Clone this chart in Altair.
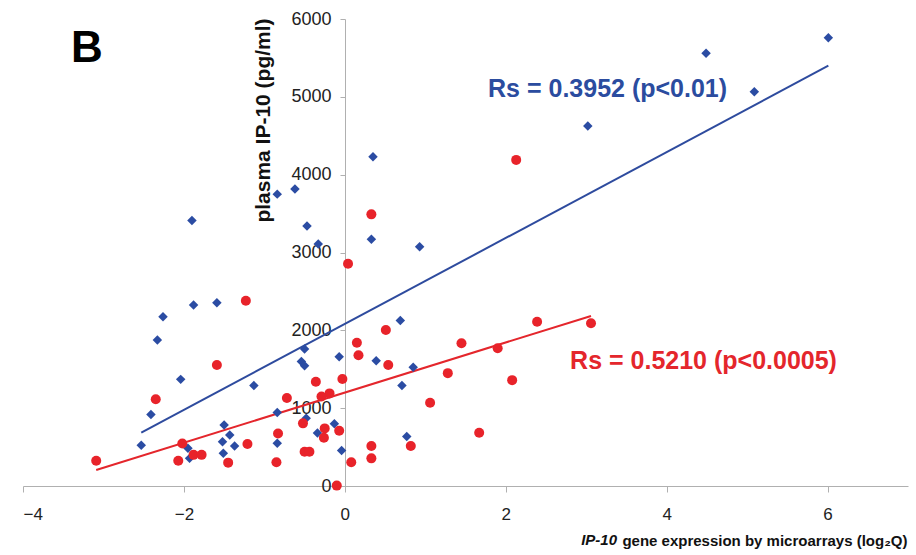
import altair as alt
import pandas as pd

# Blue series (diamonds)
blue_x = [-1.90, -0.84, -0.62, -0.47, -0.33, -2.26, -2.33, -1.88, -1.59, -2.04,
          -1.13, -0.50, -0.54, -0.50, -0.07, -2.41, -2.53, -0.84, -0.84, -1.95,
          -1.93, -1.50, -1.43, -1.52, -1.51, -1.37, -0.48, -0.34, -0.13, -0.04,
          0.35, 0.33, 0.93, 0.69, 0.39, 0.85, 0.71, 0.77, 3.02, 4.49, 5.09, 6.01]
blue_y = [3410, 3750, 3815, 3340, 3110, 2175, 1875, 2325, 2355, 1370,
          1290, 1760, 1600, 1545, 1660, 920, 525, 945, 550, 485,
          355, 785, 655, 570, 420, 515, 870, 680, 800, 455,
          4230, 3170, 3075, 2125, 1610, 1525, 1290, 635, 4625, 5560, 5065, 5760]

# Red series (circles)
red_x = [-3.09, -2.35, -1.23, -1.59, -2.02, -2.07, -1.88, -1.78, -1.45, -1.21,
         -0.85, -0.83, -0.72, -0.52, -0.50, -0.44, -0.36, -0.25, -0.26, -0.19,
         -0.29, -0.07, -0.03, 0.04, 0.08, -0.10, 0.15, 0.17, 0.33, 0.51,
         0.54, 0.33, 0.33, 0.82, 1.06, 1.28, 1.45, 1.67, 1.90, 2.13,
         2.39, 3.06, 2.08]
red_y = [325, 1115, 2380, 1555, 545, 325, 400, 400, 300, 540,
         305, 675, 1130, 805, 440, 440, 1340, 740, 620, 1190,
         1150, 710, 1375, 2855, 305, 5, 1840, 1680, 3490, 2005,
         1555, 515, 355, 515, 1070, 1450, 1835, 685, 1770, 4190,
         2110, 2090, 1360]

# Trend line endpoints
blue_line_x = [-2.53, 6.01]
blue_line_y = [685, 5400]
red_line_x = [-3.09, 3.06]
red_line_y = [206, 2185]

# Annotations
ann_text = ["Rs = 0.3952 (p<0.01)", "Rs = 0.5210 (p<0.0005)"]
ann_x = [1.78, 2.80]
ann_y = [5100, 1606]
ann_color = ["#2b4c9f", "#e4262c"]

x_ticks = [-4, -2, 0, 2, 4, 6]
y_ticks = [0, 1000, 2000, 3000, 4000, 5000, 6000]

BLUE = "#2b4ca3"
RED = "#e8232a"

blue_df = pd.DataFrame({"x": blue_x, "y": blue_y})
red_df = pd.DataFrame({"x": red_x, "y": red_y})
bl_df = pd.DataFrame({"x": blue_line_x, "y": blue_line_y})
rl_df = pd.DataFrame({"x": red_line_x, "y": red_line_y})
ann_df = pd.DataFrame({"t": ann_text, "x": ann_x, "y": ann_y, "c": ann_color})

xs = alt.Scale(domain=[-4, 7], nice=False, zero=False)
ys = alt.Scale(domain=[0, 6000], nice=False)

x_axis = alt.Axis(
    values=x_ticks, format="d", grid=False, domainColor="#b0b0b0", tickColor="#b0b0b0",
    tickSize=6, labelFontSize=17, labelColor="#222222",
    labelFont="Liberation Sans",
    labelPadding=14, title="gene expression by microarrays (log\u2082Q)",
    titleFont="Liberation Sans",
    titleFontSize=15, titleFontWeight="bold", titleColor="#111111",
    titleAnchor="end", titleAlign="right", titleX=884, titleY=54,
    titleBaseline="middle",
)
y_axis = alt.Axis(
    values=y_ticks, format="d", grid=False, domainColor="#b0b0b0", tickColor="#b0b0b0",
    tickSize=5, labelFontSize=18, labelColor="#222222", labelFont="Liberation Sans",
    labelPadding=9, offset=-322, title="plasma IP-10 (pg/ml)",
    titleFont="Liberation Sans", titleFontSize=21, titleFontWeight="bold",
    titleColor="#111111", titleAngle=270, titleX=-82, titleY=101,
    titleAlign="center", titleBaseline="middle",
)

base_x = alt.X("x:Q", scale=xs, axis=x_axis)
base_y = alt.Y("y:Q", scale=ys, axis=y_axis)

blue_line = alt.Chart(bl_df).mark_line(color="#2e4b9e", strokeWidth=2).encode(x=base_x, y=base_y)
red_line = alt.Chart(rl_df).mark_line(color="#e4262c", strokeWidth=2).encode(x="x:Q", y="y:Q")

blue_pts = alt.Chart(blue_df).mark_point(
    shape="diamond", filled=True, size=90, color=BLUE, opacity=1
).encode(x="x:Q", y="y:Q")
red_pts = alt.Chart(red_df).mark_point(
    shape="circle", filled=True, size=100, color=RED, opacity=1
).encode(x="x:Q", y="y:Q")

ann = alt.Chart(ann_df).mark_text(
    align="left", baseline="middle", fontSize=25, fontWeight="bold", font="Liberation Sans"
).encode(x="x:Q", y="y:Q", text="t:N", color=alt.Color("c:N", scale=None))

ip10 = alt.Chart(pd.DataFrame({"t": ["IP-10"]})).mark_text(
    align="right", baseline="middle", fontSize=15, fontWeight="bold", fontStyle="italic",
    font="Liberation Sans", color="#111111"
).encode(text="t:N", x=alt.value(594), y=alt.value(521))

letter = alt.Chart(pd.DataFrame({"t": ["B"]})).mark_text(
    align="center", baseline="middle", fontSize=44, fontWeight="bold",
    font="Liberation Sans", color="#000000"
).encode(text="t:N", x=alt.value(64), y=alt.value(30))

chart = alt.layer(
    blue_line, red_line, blue_pts, red_pts, ann, ip10, letter
).properties(
    width=885, height=467,
    padding={"left": 23, "top": 19, "right": 8, "bottom": 69},
    autosize=alt.AutoSizeParams(type="none"),
    background="white",
).configure_view(stroke=None)

chart.save("out.html", embed_options={"renderer": "svg", "actions": False})
